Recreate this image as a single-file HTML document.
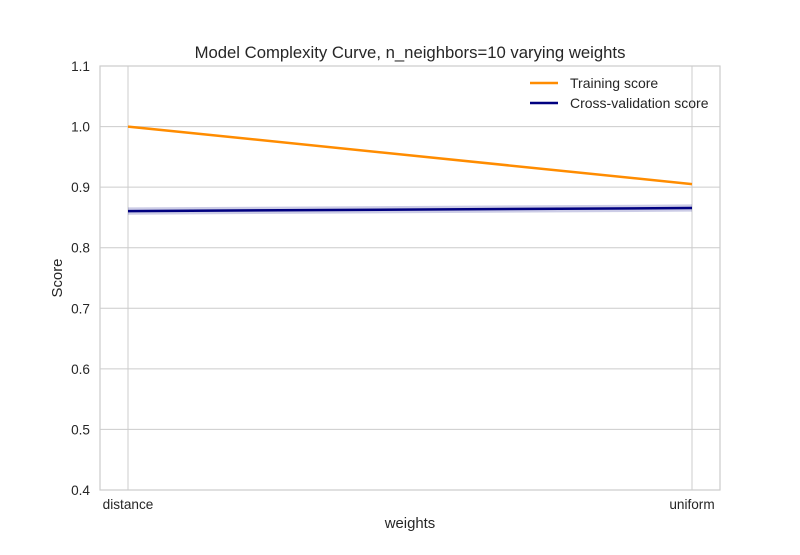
<!DOCTYPE html>
<html><head><meta charset="utf-8"><style>
body{margin:0;background:#fff;}
svg text{font-family:"Liberation Sans",Arial,sans-serif;fill:#262626;}
</style></head><body>
<svg id="chart" width="800" height="550" xmlns="http://www.w3.org/2000/svg">
<rect width="800" height="550" fill="#fff"/>
<text x="410" y="58" font-size="16.7" text-anchor="middle">Model Complexity Curve, n_neighbors=10 varying weights</text>
<g id="grid"></g>
<g id="series"></g>
<rect x="100" y="66" width="620" height="424" fill="none" stroke="#cccccc" stroke-width="1.2"/>
<text x="410" y="528" font-size="14.9" text-anchor="middle">weights</text>
<text transform="translate(62,278) rotate(-90)" font-size="14.9" text-anchor="middle">Score</text>
<g>
<line x1="530" y1="83" x2="558" y2="83" stroke="#ff8c00" stroke-width="2.5"/>
<text x="570" y="88" font-size="14">Training score</text>
<line x1="530" y1="103" x2="558" y2="103" stroke="#000080" stroke-width="2.5"/>
<text x="570" y="108" font-size="14">Cross-validation score</text>
</g>
</svg>
<script>
const categories = ["distance", "uniform"];
const trainScores = [1.0, 0.905];
const cvScores = [0.8605, 0.8655];
const cvStd = [0.006, 0.006];
const yTicks = [0.4, 0.5, 0.6, 0.7, 0.8, 0.9, 1.0, 1.1];

const NS = "http://www.w3.org/2000/svg";
const L = 100, R = 720, T = 66, B = 490;
const xs = i => 128 + i * (692 - 128) / (categories.length - 1);
const ys = v => B - (v - 0.4) / 0.7 * (B - T);
function mk(tag, attrs, parent) { const e = document.createElementNS(NS, tag); for (const k in attrs) e.setAttribute(k, attrs[k]); parent.appendChild(e); return e; }
const grid = document.getElementById("grid"), ser = document.getElementById("series");
yTicks.forEach(t => {
  const ln = mk("line", {x1: L, x2: R, y1: ys(t), y2: ys(t), stroke: "#cccccc", "stroke-width": 1}, grid);
  
  
  const tx = mk("text", {x: L - 10, y: ys(t) + 5, "font-size": 13.6, "text-anchor": "end"}, grid);
  tx.textContent = t.toFixed(1);
  
  
});
categories.forEach((c, i) => {
  const ln = mk("line", {x1: xs(i), x2: xs(i), y1: T, y2: B, stroke: "#cccccc", "stroke-width": 1}, grid);
  
  
  const tx = mk("text", {x: xs(i), y: B + 19, "font-size": 13.6, "text-anchor": "middle"}, grid);
  tx.textContent = c;
  
  
});
let up = cvScores.map((v, i) => xs(i) + "," + ys(v + cvStd[i]));
let dn = cvScores.map((v, i) => xs(i) + "," + ys(v - cvStd[i])).reverse();
const band = mk("polygon", {points: up.concat(dn).join(" "), fill: "#000080", "fill-opacity": 0.2}, ser);


const tl = mk("polyline", {points: trainScores.map((v, i) => xs(i) + "," + ys(v)).join(" "), fill: "none", stroke: "#ff8c00", "stroke-width": 2.5}, ser);


const cl = mk("polyline", {points: cvScores.map((v, i) => xs(i) + "," + ys(v)).join(" "), fill: "none", stroke: "#000080", "stroke-width": 2.5}, ser);


</script>
</body></html>
